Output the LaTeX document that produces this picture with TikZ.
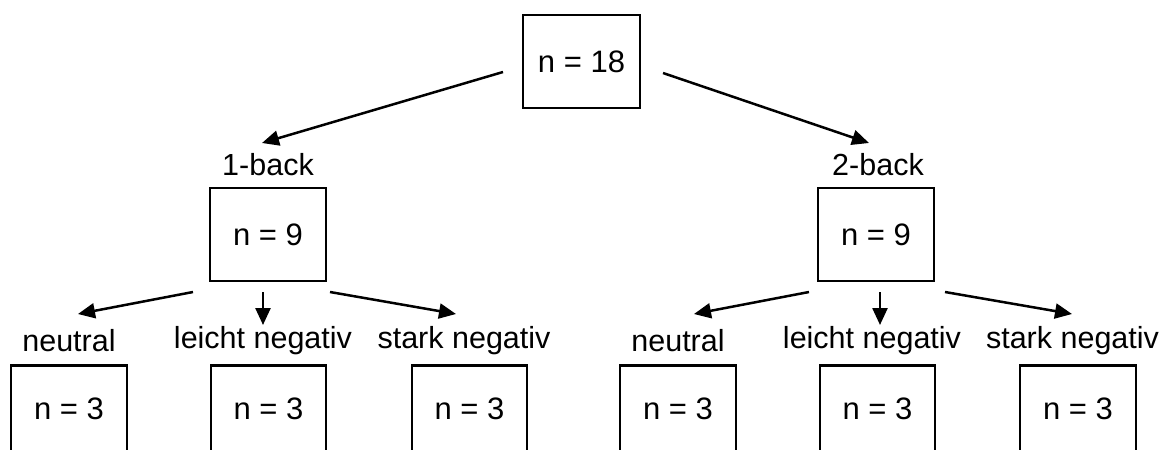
\documentclass[tikz,border=0pt]{standalone}
\usepackage{fontspec}
\setmainfont{Liberation Sans}
\usetikzlibrary{arrows.meta}
\begin{document}
\begin{tikzpicture}[x=1pt,y=-1pt,
  box/.style={draw,line width=2.5pt,inner sep=0pt,minimum height=93pt,font=\fontsize{31}{36}\selectfont},
  lbl/.style={inner sep=0pt,font=\fontsize{30.5}{36}\selectfont},
  arr/.style={line width=2.5pt,-{Triangle[length=17pt,width=15pt]}}]
\useasboundingbox (0,0) rectangle (1171,450);
\clip (0,0) rectangle (1171,450);
% boxes
\node[box,minimum width=117pt] (top) at (581.5,61.5) {n = 18};
\node[box,minimum width=116pt] (m1) at (268,234.5) {n = 9};
\node[box,minimum width=116pt] (m2) at (876,234.5) {n = 9};
\node[box,minimum width=116pt,anchor=north] (b1) at (69,364) {};
\node[box,minimum width=115pt,anchor=north] (b2) at (268.5,364) {};
\node[box,minimum width=115pt,anchor=north] (b3) at (469.5,364) {};
\node[box,minimum width=116pt,anchor=north] (b4) at (678,364) {};
\node[box,minimum width=115pt,anchor=north] (b5) at (877.5,364) {};
\node[box,minimum width=116pt,anchor=north] (b6) at (1078,364) {};
\foreach \b in {b1,b2,b3,b4,b5,b6}{\node[inner sep=0pt,font=\fontsize{31}{36}\selectfont] at ([yshift=-45pt]\b.north) {n = 3};}
% labels
\node[lbl] (l1) at (268,165) {1-back};
\node[lbl] (l2) at (878,165) {2-back};
\node[lbl] (n1) at (69,341) {neutral};
\node[lbl] (n2) at (263,341) {leicht negativ};
\node[lbl] (n3) at (464,341) {stark negativ};
\node[lbl] (n4) at (678,341) {neutral};
\node[lbl] (n5) at (872,341) {leicht negativ};
\node[lbl] (n6) at (1072.5,341) {stark negativ};
% connector endpoints
\coordinate (s1) at (503,72);   \coordinate (e1) at (262,143);
\coordinate (s2) at (663,73);   \coordinate (e2) at (869,143);
\coordinate (s11) at (193,292); \coordinate (e11) at (78,314);
\coordinate (s12) at (263,292); \coordinate (e12) at (263,325);
\coordinate (s13) at (330,292); \coordinate (e13) at (456,314);
\coordinate (s21) at (809,292); \coordinate (e21) at (694,314);
\coordinate (s22) at (880,292); \coordinate (e22) at (880,325);
\coordinate (s23) at (945,292); \coordinate (e23) at (1072,314);
\foreach \s/\e in {s1/e1,s2/e2,s11/e11,s12/e12,s13/e13,s21/e21,s22/e22,s23/e23}
  \draw[arr] (\s) -- (\e);
\end{tikzpicture}
\end{document}
